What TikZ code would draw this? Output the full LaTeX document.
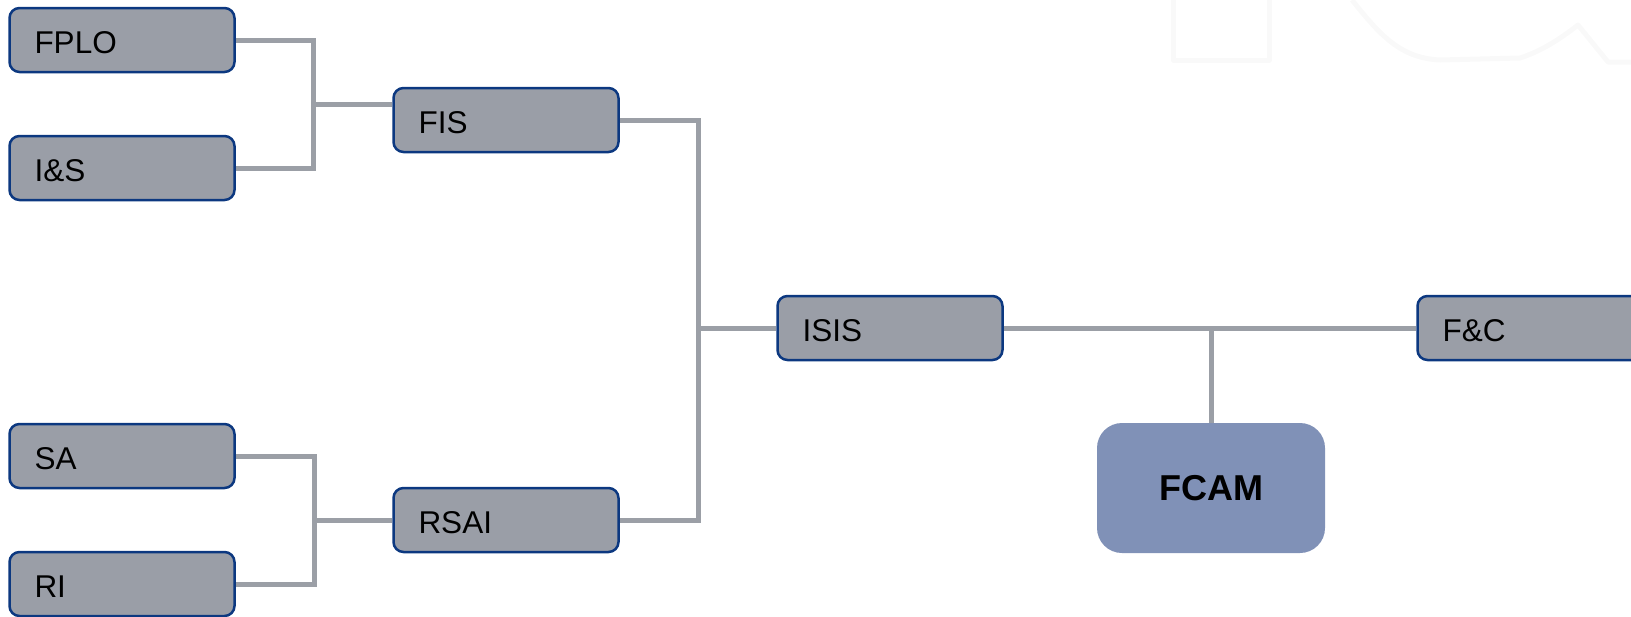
\documentclass[tikz,border=0pt]{standalone}
\usepackage{fontspec}
\setmainfont{Liberation Sans}
\definecolor{boxfill}{RGB}{154,158,167}
\definecolor{boxborder}{RGB}{12,56,128}
\definecolor{linkgray}{RGB}{155,159,166}
\definecolor{fcamfill}{RGB}{128,145,183}
\definecolor{wmark}{RGB}{249,249,249}
\begin{document}
\begin{tikzpicture}[x=1pt,y=-1pt,
  box/.style={draw=boxborder, line width=2.5pt, fill=boxfill, rounded corners=10pt,
    minimum width=225pt, minimum height=64pt, text width=175pt, inner xsep=25pt, inner ysep=0pt,
    align=left, text height=27pt, text depth=0pt, font=\fontsize{31.5}{36}\selectfont},
  fcambox/.style={fill=fcamfill, rounded corners=25pt, minimum width=228pt, minimum height=130pt,
    inner sep=0pt, font=\fontsize{36}{42}\selectfont\bfseries},
  link/.style={draw=linkgray, line width=5pt},
  wm/.style={draw=wmark, line width=5pt, line join=round}
]
\useasboundingbox (0,0) rectangle (1631,616);
\clip (0,0) rectangle (1631,616);
% faint watermark
\draw[wm] (1173,-5) -- (1173,60) -- (1269,60) -- (1269,-5);
\draw[wm] (1352,0) .. controls (1380,35) and (1400,58) .. (1440,60) -- (1520,58)
  .. controls (1545,50) and (1565,35) .. (1578,25) -- (1608,62) -- (1640,62);
% nodes
\node[box] (fplo) at (122,40) {FPLO};
\node[box] (is) at (122,168) {I\&S};
\node[box] (fis) at (506,120) {FIS};
\node[box] (sa) at (122,456) {SA};
\node[box] (ri) at (122,584) {RI};
\node[box] (rsai) at (506,520) {RSAI};
\node[box] (isis) at (890,328) {ISIS};
\node[box] (fc) at (1530,328) {F\&C};
\node[fcambox] (fcam) at (1211,488) {FCAM};
% junctions
\coordinate (j1) at (313,104);
\coordinate (j2) at (314,520);
\coordinate (j3) at (698,328);
\coordinate (j4) at (fcam.north |- isis.east);
% connectors
\draw[link] (fplo.east) -| (j1) |- (is.east);
\draw[link] (j1) -- (j1 -| fis.west);
\draw[link] (sa.east) -| (j2) |- (ri.east);
\draw[link] (j2) -- (rsai.west);
\draw[link] (fis.east) -| (j3) |- (rsai.east);
\draw[link] (j3) -- (isis.west);
\draw[link] (isis.east) -- (fc.west);
\draw[link] (fcam.north) -- (j4);
\end{tikzpicture}
\end{document}
